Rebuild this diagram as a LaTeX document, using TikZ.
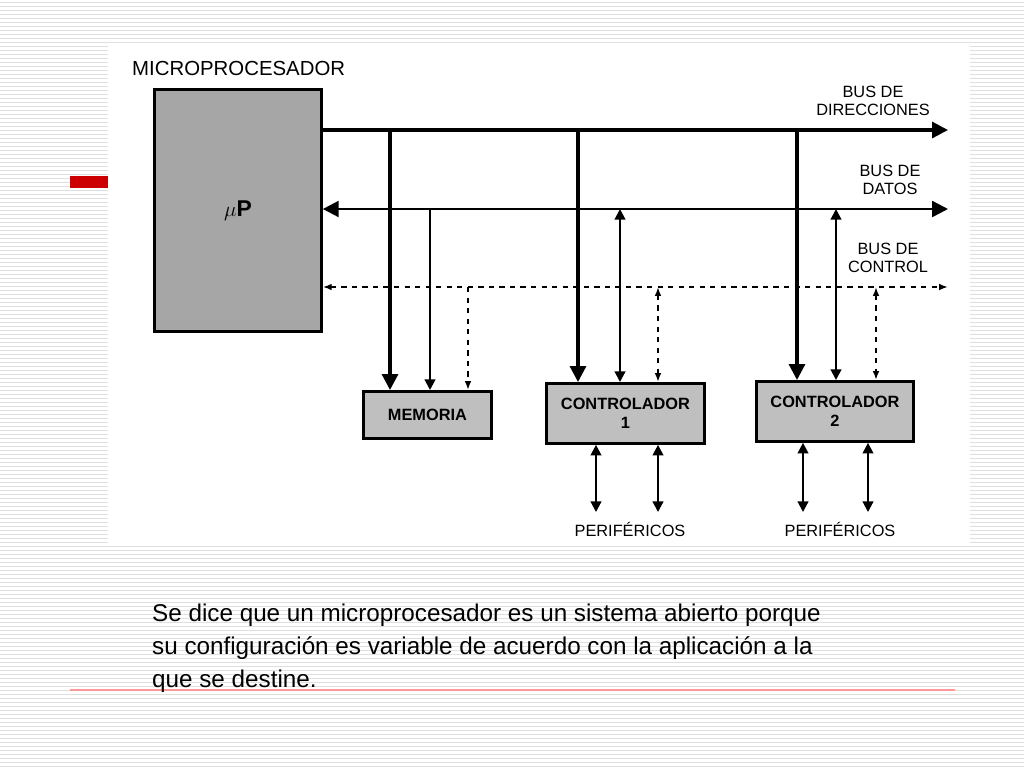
\documentclass[tikz,border=0pt]{standalone}
\usepackage{fontspec}
\setmainfont{Liberation Sans}
\usetikzlibrary{arrows.meta}
\tikzset{
  box/.style = {draw, line width=1.6pt, fill=black!35},
  lbl/.style = {align=center, font=\fontsize{9.3}{10.5}\selectfont},
  bus/.style = {line width=1.8pt, -{Triangle[length=9pt,width=9pt]}},
  wire/.style = {line width=1.2pt},
  ctl/.style = {line width=1pt, dashed, dash pattern=on 3pt off 3pt},
}
\begin{document}
\begin{tikzpicture}[x=0.02cm, y=-0.02cm]
  \useasboundingbox (0,0) rectangle (1024,768);
  % background
  \fill[white] (0,0) rectangle (1024,768);
  \foreach \y in {2,6,...,766}
    \draw[black!12, line width=0.5pt] (0,\y) -- (1024,\y);
  \fill[white] (108,45) rectangle (970,545);
  \fill[red!80!black] (70,176) rectangle (108,188);
  \draw[red!40, line width=0.6pt] (70,690) -- (955,690);

  % diagram
  \node[anchor=west, font=\fontsize{11.6}{13}\selectfont] (title) at (126,68) {MICROPROCESADOR};
  \node[box, minimum width=167*0.02cm, minimum height=242*0.02cm, anchor=north west,
        font=\fontsize{13}{14}\selectfont\bfseries] (up) at (153,88) {$\mu$P};
  \node[box, fill=black!25, minimum width=128*0.02cm, minimum height=47*0.02cm, anchor=north west,
        lbl] (mem) at (362,390) {\textbf{MEMORIA}};
  \node[box, fill=black!25, minimum width=158*0.02cm, minimum height=60*0.02cm, anchor=north west,
        lbl] (c1) at (545,382) {\textbf{CONTROLADOR}\\\textbf{1}};
  \node[box, fill=black!25, minimum width=157*0.02cm, minimum height=60*0.02cm, anchor=north west,
        lbl] (c2) at (755,380) {\textbf{CONTROLADOR}\\\textbf{2}};

  \coordinate (dirE) at (948,130);
  \coordinate (datE) at (948,209);
  \coordinate (ctlE) at (948,287);
  \draw[bus] (up.east |- dirE) -- (dirE);
  \draw[bus, {Triangle[length=9pt,width=9pt]}-{Triangle[length=9pt,width=9pt]}, line width=1.4pt] (up.east |- datE) -- (datE);
  \draw[ctl, {Latex[length=5pt]}-{Latex[length=5pt]}] (up.east |- ctlE) -- (ctlE);

  \node[lbl, anchor=south] (ldir) at (873,122) {BUS DE\\DIRECCIONES};
  \node[lbl, anchor=south] (ldat) at (890,201) {BUS DE\\DATOS};
  \node[lbl, anchor=south] (lctl) at (888,279) {BUS DE\\CONTROL};

  % memoria
  \draw[bus] (390,130) -- (390,390);
  \draw[wire, -{Triangle[length=6pt,width=6pt]}] (430,209) -- (430,390);
  \draw[ctl, -{Latex[length=5pt]}] (468,287) -- (468,390);
  % controladores
  \foreach \c/\a/\d/\k in {c1/578/620/658, c2/797/836/876}{
    \draw[bus] (\a,130) -- (\a,0 |- \c.north);
    \draw[wire, {Triangle[length=6pt,width=6pt]}-{Triangle[length=6pt,width=6pt]}] (\d,209) -- (\d,0 |- \c.north);
    \draw[ctl, {Latex[length=5pt]}-{Latex[length=5pt]}] (\k,287) -- (\k,0 |- \c.north);
  }
  % perifericos
  \foreach \c/\p/\q/\m in {c1/596/658/630, c2/803/868/840}{
    \draw[wire, {Triangle[length=6pt,width=6pt]}-{Triangle[length=6pt,width=6pt]}] (\p,0 |- \c.south) -- (\p,512);
    \draw[wire, {Triangle[length=6pt,width=6pt]}-{Triangle[length=6pt,width=6pt]}] (\q,0 |- \c.south) -- (\q,512);
    \node[lbl] (per\c) at (\m,529) {PERIFÉRICOS};
  }

  % texto
  \node[anchor=north west, align=left, font=\fontsize{13.8}{18.7}\selectfont] (txt) at (146,598)
    {Se dice que un microprocesador es un sistema abierto porque\\
     su configuración es variable de acuerdo con la aplicación a la\\
     que se destine.};
\end{tikzpicture}
\end{document}
